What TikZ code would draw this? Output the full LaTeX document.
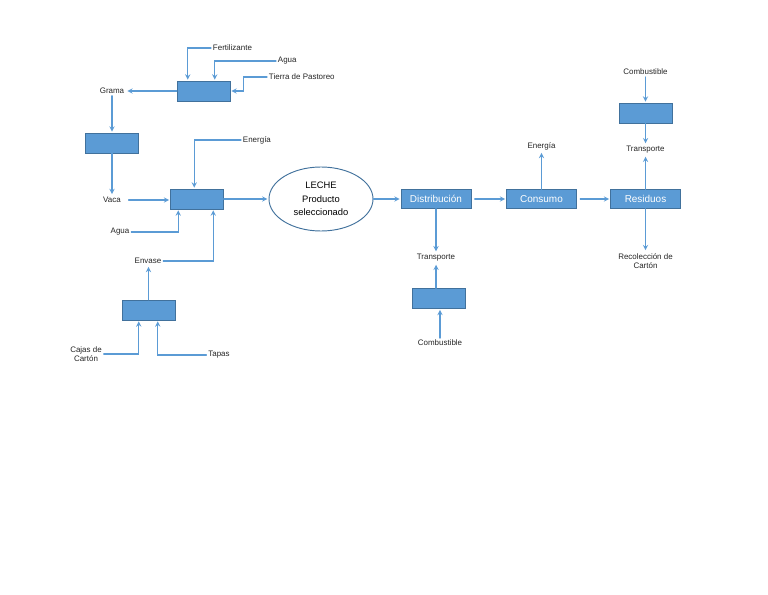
\documentclass[tikz,border=0pt]{standalone}
\usepackage{fontspec}
\setmainfont{Liberation Sans}
\usetikzlibrary{arrows,calc}
\usetikzlibrary{shapes,positioning}
\definecolor{boxblue}{HTML}{5B9BD5}
\definecolor{boxline}{HTML}{41719C}
\definecolor{flowblue}{HTML}{5B9BD5}
\tikzset{>=stealth,
  proc/.style={draw=boxline,fill=boxblue,minimum width=1.59cm,minimum height=0.6cm,inner sep=0pt},
  stage/.style={draw=boxline,fill=boxblue,minimum width=2.1cm,minimum height=0.57cm,inner sep=0pt,
    text=white,font=\fontsize{8.5}{10}\selectfont},
  lab/.style={font=\fontsize{6.8}{8}\selectfont,text=black!85,inner sep=1.5pt,align=center},
  flow/.style={->,draw=flowblue,line width=1pt,shorten >=1pt}}

\begin{document}
\begin{tikzpicture}[x=0.03cm,y=-0.03cm,line cap=round]

  \useasboundingbox (0,0) rectangle (768,594);

  % pasto
  \node [proc] (b1) at (203.5,91) {};
  \node [lab,anchor=west] (fert) at (211,48) {Fertilizante};
  \node [lab,anchor=west] (agua1) at (276,61) {Agua};
  \node [lab,anchor=west] (tierra) at (267,77) {Tierra de Pastoreo};
  \node [lab] (grama) at (112,91) {Grama};

  \draw [flow] (fert.west) -| ($(b1.north west)+(11,0)$);
  \draw [flow] (agua1.west) -| ($(b1.north west)+(38,0)$);
  \draw [flow] (tierra.west) -| ($(b1.east)+(13,0)$) -- (b1.east);
  \draw [flow] (b1.west) -- (grama.east);

  % vaca
  \node [proc] (b2) at (112,143) {};
  \node [lab] (vaca) at (112,200) {Vaca};
  \draw [flow] (grama) -- (b2);
  \draw [flow] (b2) -- (vaca);

  % ordeno
  \node [proc] (b3) at (197,199) {};
  \node [lab,anchor=west] (ener1) at (241,140) {Energía};
  \node [lab] (agua2) at (120,232) {Agua};
  \node [lab] (envase) at (148,261) {Envase};

  \draw [flow,shorten <=5pt] (vaca) -- (vaca -| b3.west);
  \draw [flow] (ener1.west) -| ($(b3.north west)+(24,0)$);
  \draw [flow] (agua2.east) -| ($(b3.south west)+(8,0)$);
  \draw [flow] (envase.east) -| ($(b3.south west)+(43,0)$);

  % envase
  \node [proc] (b4) at (148.5,310) {};
  \node [lab] (cajas) at (86,354) {Cajas de\\Cartón};
  \node [lab] (tapas) at (219,355) {Tapas};

  \draw [flow] (b4.north) -- (b4.north |- envase.south);
  \draw [flow] (cajas.east) -| ($(b4.south west)+(17,0)$);
  \draw [flow] (tapas.west) -| ($(b4.south west)+(36,0)$);

  % producto
  \node [ellipse,draw=boxline,line width=0.8pt,minimum width=3.12cm,minimum height=1.92cm,inner sep=0pt,
    align=center,font=\fontsize{8}{11.5}\selectfont] (leche) at (321,199) {LECHE\\Producto\\seleccionado};
  \draw [flow] (b3) -- (leche);

  % distribucion
  \node [stage] (dist) at (436,199) {Distribución};
  \node [lab] (trans1) at (436,258) {Transporte};
  \node [proc] (b5) at (438.5,298.5) {};
  \node [lab] (comb1) at (440,343) {Combustible};

  \draw [flow] (leche) -- (dist);
  \draw [flow] (dist) -- (trans1);
  \draw [flow] (b5.north -| trans1) -- (trans1);
  \draw [flow] (comb1) -- (comb1 |- b5.south);

  % consumo
  \node [stage] (cons) at (541.5,199) {Consumo};
  \node [lab] (ener2) at (541.5,146) {Energía};

  \draw [flow,shorten <=3pt] (dist) -- (cons);
  \draw [flow] (cons) -- (ener2);

  % residuos
  \node [stage] (res) at (645.5,199) {Residuos};
  \node [lab] (trans2) at (645.5,150) {Transporte};
  \node [lab] (recol) at (645.5,261) {Recolección de\\Cartón};
  \node [proc] (b6) at (645.5,113) {};
  \node [lab] (comb2) at (645.5,72) {Combustible};

  \draw [flow,shorten <=3pt] (cons) -- (res);
  \draw [flow] (res) -- (trans2);
  \draw [flow] (res) -- (recol);
  \draw [flow] (comb2) -- (b6);
  \draw [flow] (b6) -- (trans2);

\end{tikzpicture}
\end{document}
